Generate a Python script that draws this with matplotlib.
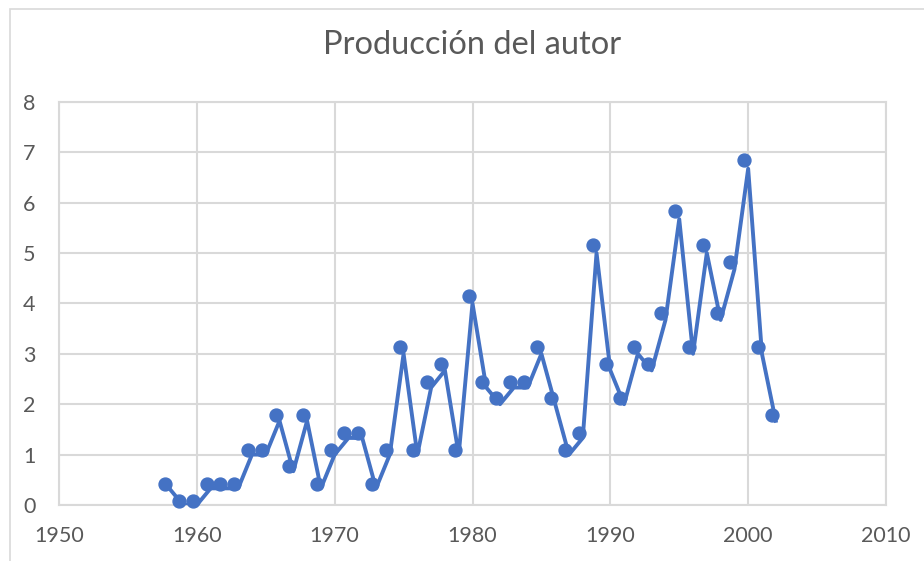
import matplotlib
matplotlib.use("Agg")
import matplotlib.pyplot as plt
import matplotlib.transforms as mtransforms
from matplotlib.patches import Rectangle

years = list(range(1958, 2003))
values = [0.33, 0.0, 0.0, 0.33, 0.33, 0.33, 1.0, 1.0, 1.67, 0.67,
          1.67, 0.33, 1.0, 1.33, 1.33, 0.33, 1.0, 3.0, 1.0, 2.33,
          2.67, 1.0, 4.0, 2.33, 2.0, 2.33, 2.33, 3.0, 2.0, 1.0,
          1.33, 5.0, 2.67, 2.0, 3.0, 2.67, 3.67, 5.67, 3.0, 5.0,
          3.67, 4.67, 6.67, 3.0, 1.67]
title = "Producción del autor"
xticks = [1950, 1960, 1970, 1980, 1990, 2000, 2010]
yticks = [0, 1, 2, 3, 4, 5, 6, 7, 8]

blue = "#4472C4"
grid = "#D9D9D9"
txt = "#595959"
plt.rcParams['font.family'] = ['Lato', 'DejaVu Sans']

fig = plt.figure(figsize=(9.24, 5.61), dpi=100)
W, H = 924, 561
# chart border
fig.patches.append(Rectangle((10 / W, -0.1), 1.0, (H - 8.5) / H + 0.1,
                             transform=fig.transFigure, fill=False,
                             edgecolor=grid, linewidth=1.2))
rect = [59 / W, (H - 505) / H, (886 - 59) / W, (505 - 101.7) / H]
ax = fig.add_axes(rect)
ax.set_xlim(1950, 2010)
ax.set_ylim(0, 8)
ax.set_xticks(xticks)
ax.set_yticks(yticks)
ax.grid(True, color=grid, linewidth=1.5)
ax.set_axisbelow(True)
for s in ax.spines.values():
    s.set_color(grid)
    s.set_linewidth(1.5)
ax.tick_params(length=0, colors=txt, labelsize=15.5)
ax.tick_params(axis='x', pad=15)
ax.tick_params(axis='y', pad=17)

ax.plot(years, values, color=blue, linewidth=2.8, solid_joinstyle='round', zorder=3)

# marker series sits on a slightly different (hidden) scale, as in the source
ax2 = fig.add_axes(rect, sharex=ax)
ax2.patch.set_visible(False)
ax2.axis('off')
ax2.set_ylim(-0.084, 7.80)
off = mtransforms.ScaledTranslation(-4 / 100, 0, fig.dpi_scale_trans)
ax2.plot(years, values, linestyle='none', marker='o', markersize=9.3,
         color=blue, transform=ax2.transData + off, zorder=4, clip_on=False)

fig.text(472 / W, 1 - 45 / H, title, ha='center', va='center',
         fontsize=23.5, color=txt)
fig.savefig("out.png", dpi=100)
